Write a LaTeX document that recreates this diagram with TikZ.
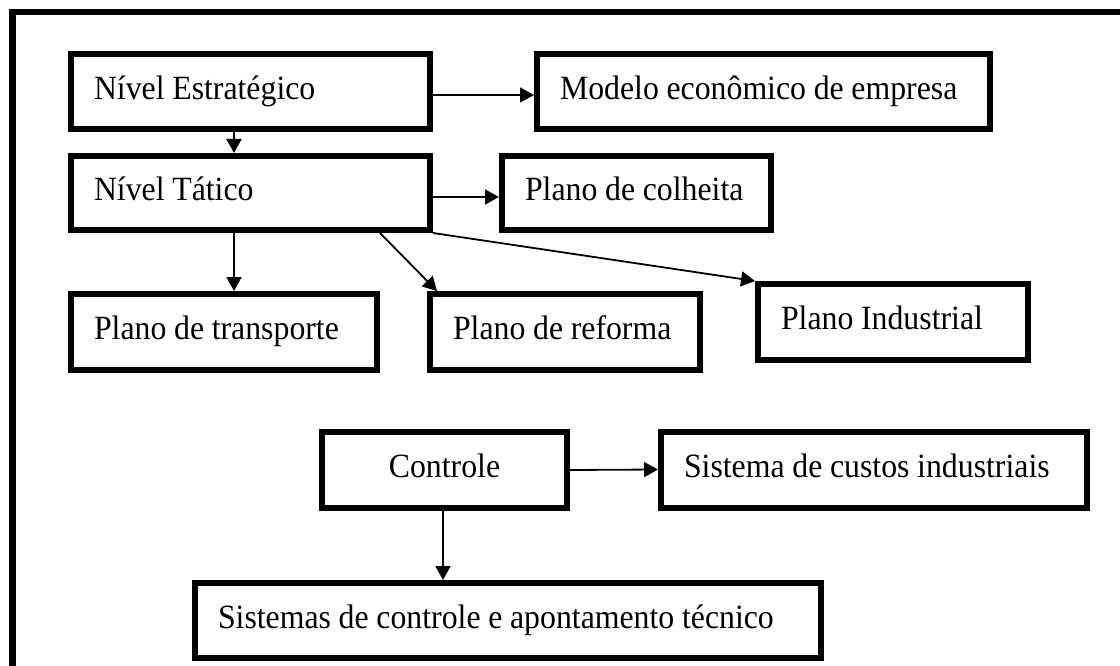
\documentclass[tikz,border=0pt]{standalone}
\usepackage{fontspec}
\setmainfont[FakeStretch=0.935]{Liberation Serif}
\usepackage{tikz}
\usetikzlibrary{arrows.meta}
\tikzset{
	caixa/.style={draw, line width=6pt, inner xsep=23pt, inner ysep=0pt, text height=24pt, text depth=9pt, font=\fontsize{34}{40}\selectfont},
	esq/.style={caixa, align=left, execute at begin node={\spaceskip=7.7pt\relax\hbox\bgroup}, execute at end node={\egroup}},
	seta/.style={line width=1.8pt, -{Triangle[length=14pt,width=15pt]}}
}
\newcommand\moldura[0]{
	% page
	\useasboundingbox (0,0) rectangle (1120,666);
	\clip (0,0) rectangle (1120,666);
	% outer frame
	\draw [line width=6.5pt] (12.5,12.2) rectangle (1140,690);
}

\begin{document}
\begin{tikzpicture}[x=1pt, y=-1pt]
	\moldura
	
	% levels
	\node [esq, text width=313pt, minimum height=75pt] (strat) at (250.5,92) {Nível Estratégico};
	\node [esq, text width=407pt, minimum height=75pt] (modelo) at (763.5,92) {Modelo econômico de empresa};
	\node [esq, text width=313pt, minimum height=74pt] (tatico) at (250.5,193) {Nível Tático};
	\node [esq, text width=223pt, minimum height=74pt] (colheita) at (636.5,193) {Plano de colheita};
	
	% plans
	\node [esq, text width=260pt, minimum height=76pt] (transp) at (224,332) {Plano de transporte};
	\node [esq, text width=224pt, minimum height=76pt] (reforma) at (565,332) {Plano de reforma};
	\node [esq, text width=224pt, minimum height=76pt] (industrial) at (893,322) {Plano Industrial};
	
	% control
	\node [caixa, text width=199pt, minimum height=76pt, align=center] (controle) at (444.5,470) {Controle};
	\node [esq, text width=380pt, minimum height=76pt] (custos) at (874,469.5) {Sistema de custos industriais};
	\node [esq, text width=580pt, minimum height=75pt] (sistemas) at (508,620.5) {Sistemas de controle e apontamento técnico};
	
	% arrows
	\draw [seta] ([yshift=-3pt]strat.east) -- ([yshift=-3pt]modelo.west);
	\draw [seta] ([xshift=-16.5pt]strat.south) -- ([xshift=-16.5pt]tatico.north);
	\draw [seta] ([yshift=-4pt]tatico.east) -- ([yshift=-4pt]colheita.west);
	\draw [seta] ([xshift=-16.5pt]tatico.south) -- ([xshift=-16.5pt]tatico.south |- transp.north);
	\draw [seta] ([xshift=129.5pt]tatico.south) -- ([xshift=10pt]reforma.north west);
	\draw [seta] (tatico.south east) -- (industrial.north west);
	\draw [seta] (controle.east) -- (custos.west);
	\draw [seta] ([xshift=-1.5pt]controle.south) -- ([xshift=-1.5pt]controle.south |- sistemas.north);
\end{tikzpicture}
\end{document}
